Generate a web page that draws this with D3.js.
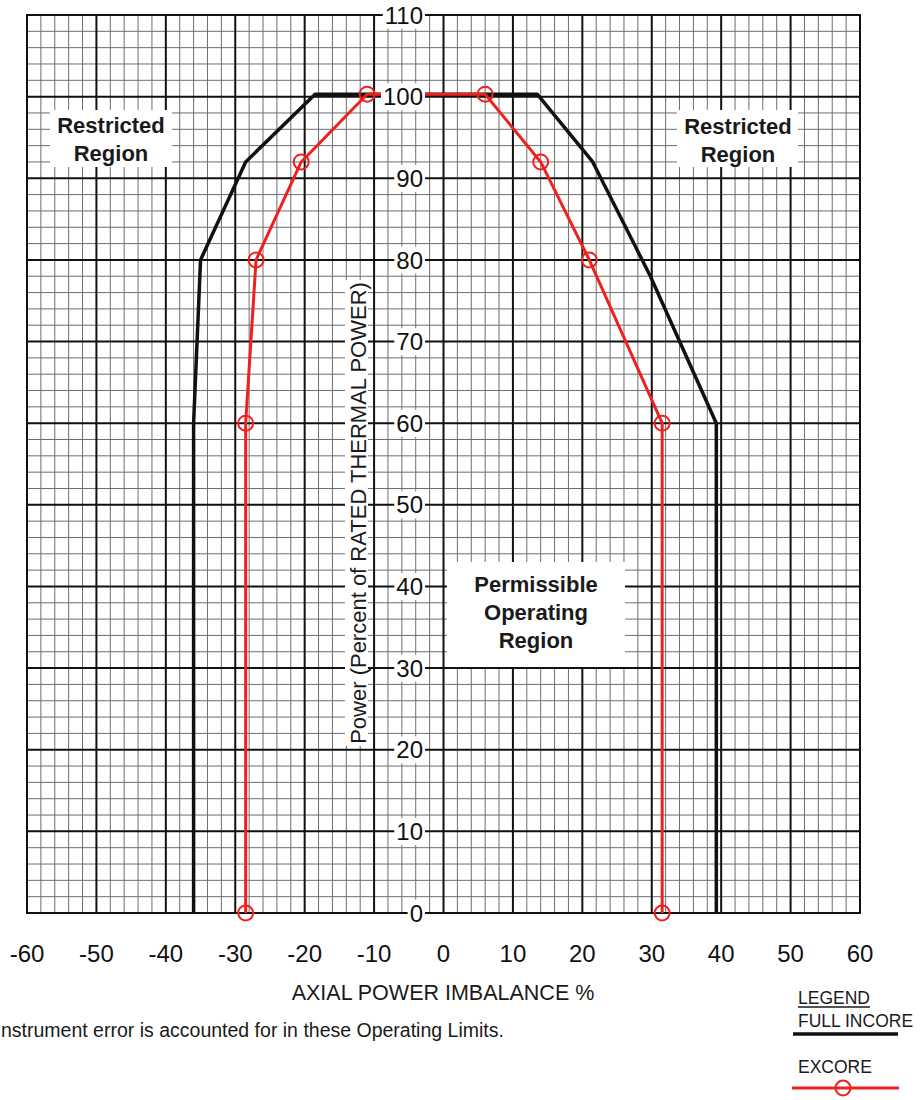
<!DOCTYPE html>
<html>
<head>
<meta charset="utf-8">
<script src="https://cdn.jsdelivr.net/npm/d3@7"></script>
<style>
  body { margin: 0; background: #fff; }
  svg { display: block; font-family: "Liberation Sans", Arial, sans-serif; }
</style>
</head>
<body>
<script>
// axial power imbalance limits
let xTicks = [-60, -50, -40, -30, -20, -10, 0, 10, 20, 30, 40, 50, 60];
let yTicks = [0, 10, 20, 30, 40, 50, 60, 70, 80, 90, 100, 110];

let incoreX = [-36, -36, -35, -28.5, -18.5, 13.5, 21.5, 29.8, 39.3, 39.3];
let incoreY = [0, 60, 80, 92, 100.3, 100.3, 92, 78, 60, 0];

let excoreX = [-28.5, -28.5, -27, -20.5, -11, 6, 14, 21, 31.5, 31.5];
let excoreY = [0, 60, 80, 92, 100.3, 100.3, 92, 80, 60, 0];

let W = 921, H = 1100;

let svg = d3.select('body').append('svg').attr('width', W).attr('height', H);

let x = d3.scaleLinear().domain([-60, 60]).range([27, 860]);
let y = d3.scaleLinear().domain([0, 110]).range([913, 15]);

// graph paper grid
let grid = svg.append("g");
grid.selectAll("line.vmin")
    .data(d3.range(-60, 61, 2).filter(v => v % 10 != 0))
    .enter().append("line")
    .attr("x1", d => x(d)).attr("x2", d => x(d))
    .attr("y1", y(0)).attr("y2", y(110))
    .attr("stroke", "#6e6e6e").attr("stroke-width", 1);
grid.selectAll("line.hmin")
    .data(d3.range(0, 111, 2).filter(v => v % 10 != 0))
    .enter().append("line")
    .attr("x1", x(-60)).attr("x2", x(60))
    .attr("y1", d => y(d)).attr("y2", d => y(d))
    .attr("stroke", "#6e6e6e").attr("stroke-width", 1);
grid.selectAll("line.vmaj")
    .data(xTicks)
    .enter().append("line")
    .attr("x1", d => x(d)).attr("x2", d => x(d))
    .attr("y1", y(0)).attr("y2", y(110))
    .attr("stroke", "#111").attr("stroke-width", 2);
grid.selectAll("line.hmaj")
    .data(yTicks)
    .enter().append("line")
    .attr("x1", x(-60)).attr("x2", x(60))
    .attr("y1", d => y(d)).attr("y2", d => y(d))
    .attr("stroke", "#111").attr("stroke-width", 2);
svg.append("rect")
    .attr("x", x(-60)).attr("y", y(110))
    .attr("width", x(60) - x(-60)).attr("height", y(0) - y(110))
    .attr("fill", "none").attr("stroke", "#111").attr("stroke-width", 2);

// puts a white box behind a text element
function boxBehind(parent, textSel, padX, padY)
{
    let b = textSel.node().getBBox();
    parent.insert("rect", function(){ return textSel.node(); })
        .attr("x", b.x - padX).attr("y", b.y - padY)
        .attr("width", b.width + 2*padX).attr("height", b.height + 2*padY)
        .attr("fill", "white");
}

// region labels
function regionLabel(lines, cx, baselines, box)
{
    let g = svg.append("g");
    g.append("rect")
        .attr("x", box[0]).attr("y", box[1])
        .attr("width", box[2] - box[0]).attr("height", box[3] - box[1])
        .attr("fill", "white");
    lines.forEach(function(t, i){
        g.append("text")
            .attr("x", cx).attr("y", baselines[i])
            .attr("text-anchor", "middle")
            .attr("font-size", 22).attr("font-weight", "bold")
            .attr("fill", "#1a1a1a")
            .text(t);
    });
}
regionLabel(["Restricted", "Region"], 111, [133, 161], [50, 110, 172, 167]);
regionLabel(["Restricted", "Region"], 738, [134, 162], [677, 110, 798, 167]);
regionLabel(["Permissible", "Operating", "Region"], 536, [592, 620, 648], [447, 562, 625, 667]);

// curves
let line = d3.line().x(d => x(d[0])).y(d => y(d[1]));
let incore = incoreX.map((v, i) => [v, incoreY[i]]);
let excore = excoreX.map((v, i) => [v, excoreY[i]]);

svg.append("path").datum(incore)
    .attr("d", line)
    .attr("fill", "none").attr("stroke", "#111").attr("stroke-width", 3.5)
    .attr("stroke-linejoin", "round");

svg.append("path").datum(excore)
    .attr("d", line)
    .attr("fill", "none").attr("stroke", "#f0201e").attr("stroke-width", 3)
    .attr("stroke-linejoin", "round");

svg.selectAll("circle.ex")
    .data(excore)
    .enter().append("circle")
    .attr("cx", d => x(d[0])).attr("cy", d => y(d[1]))
    .attr("r", 7.5)
    .attr("fill", "none").attr("stroke", "#f0201e").attr("stroke-width", 2);

// y tick labels on the axis, white backed
let yLab = svg.append("g");
yTicks.forEach(function(v){
    let t = yLab.append("text")
        .attr("x", 423).attr("y", y(v))
        .attr("dy", "0.36em")
        .attr("text-anchor", "end")
        .attr("font-size", 24)
        .attr("fill", "#111")
        .text(v);
    boxBehind(yLab, t, 2, 0);
});

// y title
let yt = svg.append("g");
let ytText = yt.append("text")
    .attr("transform", "translate(366," + 513 + ") rotate(-90)")
    .attr("text-anchor", "middle")
    .attr("font-size", 22)
    .attr("fill", "#1a1a1a")
    .text("Power (Percent of RATED THERMAL POWER)");
{
    let b = ytText.node().getBBox();
    yt.insert("rect", "text")
        .attr("x", 366 - b.height + 4).attr("y", 513 - b.width/2 - 2)
        .attr("width", b.height - 2).attr("height", b.width + 4)
        .attr("fill", "white");
}

// x tick labels
svg.selectAll("text.xt")
    .data(xTicks)
    .enter().append("text")
    .attr("x", d => x(d)).attr("y", 962)
    .attr("text-anchor", "middle")
    .attr("font-size", 24)
    .attr("fill", "#111")
    .text(d => d);

svg.append("text")
    .attr("x", 443).attr("y", 1000)
    .attr("text-anchor", "middle")
    .attr("font-size", 21.5)
    .attr("fill", "#1a1a1a")
    .text("AXIAL POWER IMBALANCE %");

// the scan cuts the first letter off, so only the visible part is kept
svg.append("text")
    .attr("x", 1).attr("y", 1037)
    .attr("font-size", 19.5)
    .attr("fill", "#1a1a1a")
    .text("nstrument error is accounted for in these Operating Limits.");

// legend
let lg = svg.append("g");
let lgTitle = lg.append("text")
    .attr("x", 798).attr("y", 1004)
    .attr("font-size", 17.5).attr("fill", "#1a1a1a")
    .text("LEGEND");
{
    let b = lgTitle.node().getBBox();
    lg.append("line")
        .attr("x1", b.x).attr("x2", b.x + b.width)
        .attr("y1", 1007).attr("y2", 1007)
        .attr("stroke", "#1a1a1a").attr("stroke-width", 1.3);
}
lg.append("text")
    .attr("x", 798).attr("y", 1027)
    .attr("font-size", 17.5).attr("fill", "#1a1a1a")
    .text("FULL INCORE");
lg.append("line")
    .attr("x1", 793).attr("x2", 898).attr("y1", 1034).attr("y2", 1034)
    .attr("stroke", "#111").attr("stroke-width", 3.5);
lg.append("text")
    .attr("x", 798).attr("y", 1073)
    .attr("font-size", 17.5).attr("fill", "#1a1a1a")
    .text("EXCORE");
lg.append("line")
    .attr("x1", 792).attr("x2", 899).attr("y1", 1088).attr("y2", 1088)
    .attr("stroke", "#f0201e").attr("stroke-width", 3);
lg.append("circle")
    .attr("cx", 843).attr("cy", 1088).attr("r", 7.5)
    .attr("fill", "none").attr("stroke", "#f0201e").attr("stroke-width", 2);
</script>
</body>
</html>
